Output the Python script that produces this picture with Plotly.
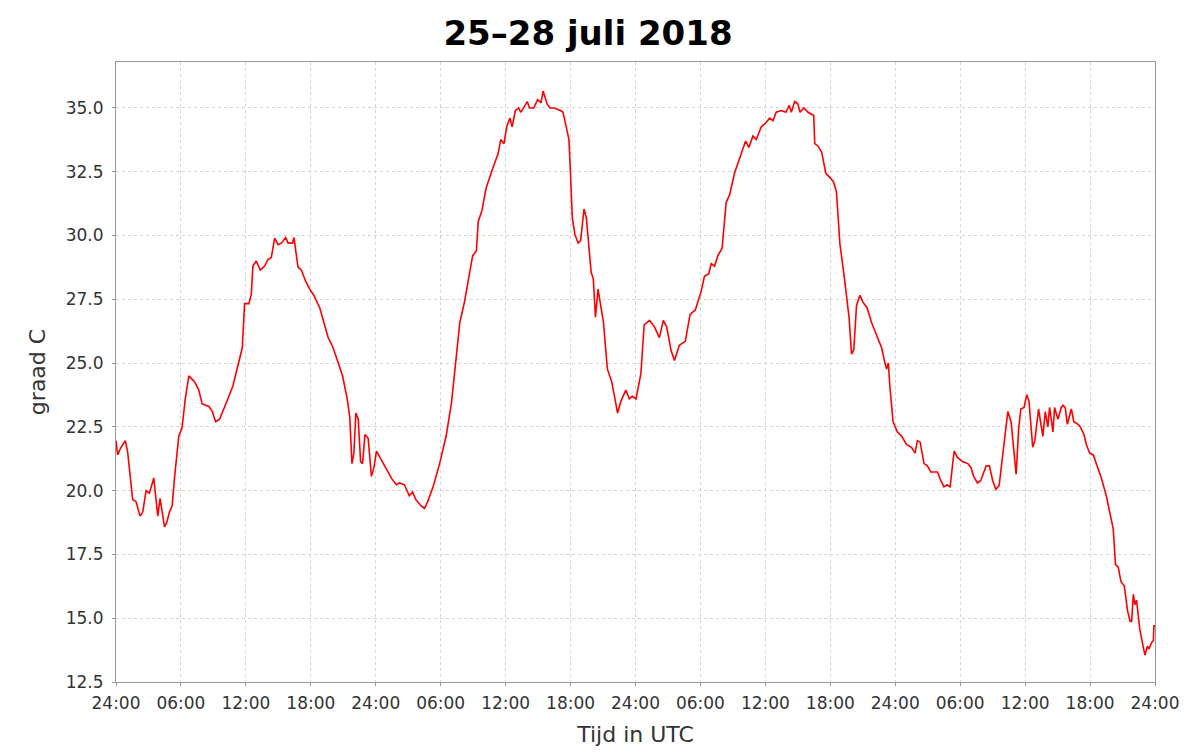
import plotly.graph_objects as go

# Time in hours since 25 juli 00:00 UTC
hours = [
    0.0, 0.15, 0.46, 0.86, 1.08, 1.54, 1.85, 2.22, 2.47, 2.78, 3.09, 3.49, 3.7, 3.86, 4.07, 4.26,
    4.48, 4.69, 4.94, 5.19, 5.4, 5.8, 6.1, 6.4, 6.73, 7.25, 7.65, 7.96, 8.58, 8.9, 9.2, 9.57,
    9.88, 10.34, 10.8, 11.27, 11.67, 11.88, 12.28, 12.5, 12.65, 12.96, 13.33, 13.73, 14.04, 14.35,
    14.66, 14.97, 15.28, 15.68, 15.9, 16.3, 16.45, 16.67, 16.82, 17.13, 17.53, 17.9, 18.27, 18.83,
    19.2, 19.6, 20.06, 20.52, 20.93, 21.36, 21.6, 21.8, 21.98, 22.16, 22.38, 22.6, 22.78, 23.0,
    23.3, 23.6, 23.83, 24.07, 24.5, 25.0, 25.46, 25.9, 26.2,
    26.65, 27.1, 27.4, 27.7, 28.2, 28.5, 28.8, 29.3, 29.9, 30.5, 31.0, 31.3, 31.77, 32.2, 32.6,
    32.95, 33.3, 33.47, 33.8, 34.2, 34.7, 35.0, 35.3, 35.55, 35.85, 36.1, 36.4, 36.6, 36.9, 37.2,
    37.4, 37.66, 38.0, 38.2, 38.6, 38.96, 39.27, 39.46, 39.83, 40.1, 40.45, 41.07, 41.3, 41.6,
    41.85, 42.0, 42.16, 42.4, 42.7, 42.93, 43.24, 43.46, 43.7, 43.9, 44.1, 44.3, 44.54, 44.73,
    45.04, 45.4, 45.8, 46.1, 46.34, 46.65, 47.1, 47.43, 47.7, 48.05, 48.2, 48.5, 48.8, 49.3, 49.75,
    50.2, 50.57, 50.88, 51.28, 51.6, 52.05, 52.6, 53.04, 53.54, 54.06, 54.37, 54.77, 55.0, 55.3,
    55.6, 56.0, 56.38, 56.7, 57.15, 57.77, 58.17, 58.48, 58.85, 59.16, 59.62, 60.0, 60.4, 60.7,
    61.0, 61.5, 61.9, 62.2, 62.4, 62.7, 63.0, 63.2, 63.55, 63.94, 64.47, 64.56, 64.87, 65.2,
    65.58, 65.95, 66.3, 66.57, 66.88, 67.34, 67.74, 67.96, 68.17, 68.42, 68.73, 69.0, 69.4, 69.8,
    70.1, 70.43, 70.74, 71.05, 71.2, 71.36, 71.5, 71.8, 72.2, 72.6, 73.05, 73.5, 73.83, 74.04, 74.3,
    74.66, 74.97, 75.28, 75.9, 76.2, 76.5, 76.8, 77.07, 77.44, 77.75, 78.2, 78.7, 79.0, 79.24,
    79.6, 79.9, 80.4, 80.7, 81.0, 81.3, 81.6, 82.0, 82.4, 82.7, 82.95, 83.17, 83.4, 83.6, 83.9,
    84.15, 84.36, 84.7, 84.9, 85.24, 85.64, 85.86, 86.1, 86.26, 86.57, 86.72, 87.03, 87.34, 87.5,
    87.7, 87.9, 88.1, 88.27, 88.5, 88.9, 89.1, 89.44, 89.66, 89.97, 90.3, 90.7, 91.05, 91.5,
    91.83, 92.14, 92.35, 92.6, 92.85, 93.16, 93.47, 93.7, 93.84, 94.0, 94.15, 94.3, 94.6, 94.92,
    95.07, 95.3, 95.44, 95.7, 95.85, 95.9, 96.0,
]

temps = [
    21.96, 21.4, 21.7, 21.96, 21.5, 19.65, 19.57, 19.0, 19.16, 20.0, 19.9, 20.5, 19.65, 19.0, 19.7, 19.16,
    18.58, 18.75, 19.16, 19.4, 20.48, 22.13, 22.46, 23.6, 24.5, 24.27, 23.94, 23.4, 23.3, 23.1, 22.7, 22.8,
    23.1, 23.6, 24.1, 24.85, 25.6, 27.33, 27.33, 27.7, 28.8, 29.0, 28.64, 28.8, 29.06, 29.14,
    29.9, 29.64, 29.7, 29.92, 29.7, 29.7, 29.92, 29.2, 28.76, 28.64, 28.2, 27.9, 27.66, 27.16,
    26.6, 26.0, 25.6, 25.0, 24.5, 23.6, 22.87, 21.06, 21.47, 23.04, 22.8, 21.14, 21.06, 22.2,
    22.05, 20.56, 20.9, 21.55, 21.2, 20.8, 20.48, 20.23, 20.3,
    20.23, 19.8, 19.95, 19.65, 19.4, 19.3, 19.57, 20.15, 21.06, 22.13, 23.45, 24.6, 26.6, 27.4, 28.4,
    29.2, 29.4, 30.55, 30.96, 31.86, 32.5, 32.85, 33.2, 33.76, 33.6, 34.26, 34.6, 34.26, 34.9, 35.0,
    34.83, 35.0, 35.25, 35.0, 35.0, 35.33, 35.2, 35.66, 35.16, 35.0, 35.0, 34.9, 34.83, 34.26,
    33.76, 32.36, 30.7, 30.05, 29.7, 29.8, 31.04, 30.7, 29.4, 28.56, 28.3, 26.8, 27.9, 27.4,
    26.6, 24.77, 24.27, 23.6, 23.04, 23.5, 23.94, 23.6, 23.7, 23.6, 23.94, 24.6, 26.5, 26.67, 26.42,
    26.0, 26.67, 26.42, 25.5, 25.1, 25.7, 25.85, 26.9, 27.1, 27.8, 28.4, 28.5, 28.9, 28.8,
    29.2, 29.5, 31.3, 31.6, 32.45, 33.2, 33.7, 33.45, 33.9, 33.76, 34.26, 34.4, 34.6, 34.5,
    34.83, 34.9, 34.83, 35.1, 34.83, 35.25, 35.16, 34.83, 35.0, 34.83, 34.7, 33.6, 33.5, 33.27,
    32.44, 32.28, 32.1, 31.7, 29.7, 28.2, 26.75, 25.35, 25.52, 27.25, 27.66, 27.4, 27.16, 26.6,
    26.3, 25.9, 25.6, 25.0, 24.77, 25.0, 24.1, 22.7, 22.3, 22.13, 21.8, 21.7, 21.47, 21.96, 21.9,
    21.06, 20.97, 20.73, 20.73, 20.4, 20.15, 20.23, 20.15, 21.55, 21.3, 21.14, 21.06, 20.9, 20.56,
    20.3, 20.4, 20.97, 20.97, 20.4, 20.05, 20.2, 21.6, 23.1, 22.7, 21.6, 20.64, 22.4, 23.2, 23.26,
    23.76, 23.5, 21.7, 21.96, 23.2, 22.13, 23.1, 22.5, 23.26, 22.3, 23.26, 22.8, 23.26, 23.35,
    23.26, 22.6, 22.9, 23.2, 22.7, 22.6, 22.5, 22.2, 21.8, 21.47, 21.4, 20.9, 20.48, 19.8,
    19.16, 18.5, 17.1, 17.0, 16.44, 16.27, 15.28, 14.87, 14.87, 15.94, 15.53, 15.7, 14.54, 13.9,
    13.55, 13.9, 13.8, 14.05, 14.13, 14.7, 14.7,
]

x_tick_vals = [0, 6, 12, 18, 24, 30, 36, 42, 48, 54, 60, 66, 72, 78, 84, 90, 96]
x_tick_text = ["24:00", "06:00", "12:00", "18:00"] * 4 + ["24:00"]
y_tick_vals = [12.5, 15.0, 17.5, 20.0, 22.5, 25.0, 27.5, 30.0, 32.5, 35.0]
y_tick_text = ["%.1f" % v for v in y_tick_vals]

fig = go.Figure()
fig.add_trace(go.Scatter(
    x=hours, y=temps, mode="lines",
    line=dict(color="#ff0000", width=1.6),
    showlegend=False,
))

font_family = "DejaVu Sans, sans-serif"
fig.update_layout(
    width=1200, height=756,
    paper_bgcolor="white", plot_bgcolor="white",
    margin=dict(l=108, r=53, t=54, b=82),
    title=dict(text="<b>25–28 juli 2018</b>", x=(588 - 8) / 1200, xanchor="center",
               y=1 - 25 / 756, yanchor="middle", yref="container", xref="container",
               font=dict(family=font_family, size=34, color="black")),
    font=dict(family=font_family, color="#333333"),
    xaxis=dict(
        range=[0, 96], tickmode="array", tickvals=x_tick_vals, ticktext=x_tick_text,
        showgrid=True, gridcolor="#d4d4d4", griddash="3px,3px", gridwidth=1,
        showline=True, linecolor="#999999", linewidth=1, mirror=True,
        ticks="outside", ticklen=3, tickcolor="#999999", ticklabelstandoff=3,
        tickfont=dict(size=17, color="#333333"),
        title=dict(text="Tijd in UTC", font=dict(size=22, color="#333333"), standoff=14),
        zeroline=False,
    ),
    yaxis=dict(
        range=[12.5, 36.8], tickmode="array", tickvals=y_tick_vals, ticktext=y_tick_text,
        showgrid=True, gridcolor="#d4d4d4", griddash="3px,3px", gridwidth=1,
        showline=True, linecolor="#999999", linewidth=1, mirror=True,
        ticks="outside", ticklen=3, tickcolor="#999999", ticklabelstandoff=5,
        tickfont=dict(size=17, color="#333333"),
        title=dict(text="graad C", font=dict(size=22, color="#333333"), standoff=14),
        zeroline=False,
    ),
)

fig.write_html("out.html")
